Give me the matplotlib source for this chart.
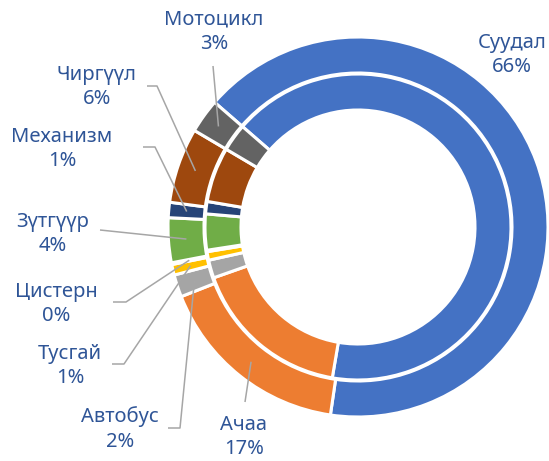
import matplotlib
matplotlib.use("Agg")
import matplotlib.pyplot as plt
import numpy as np

plt.rcParams['font.family'] = ['Noto Sans', 'DejaVu Sans']

# ---- data ----
categories = ["Суудал", "Ачаа", "Автобус", "Тусгай", "Цистерн",
              "Зүтгүүр", "Механизм", "Чиргүүл", "Мотоцикл"]
outer_values = [65.9, 16.7, 1.9, 0.9, 0.15, 3.8, 1.3, 6.4, 2.9]
inner_values = [66.2, 16.9, 1.9, 0.9, 0.15, 3.8, 1.3, 5.8, 2.9]
colors = ["#4472C4", "#ED7D31", "#A5A5A5", "#FFC000", "#5B9BD5",
          "#70AD47", "#264478", "#9E480E", "#636363"]

# ---- layout (pixel coordinates, y measured from top) ----
W, H = 549, 461
cx, cy = 358, 227
label_pos = {
    "Суудал": (512, 55),
    "Ачаа": (244, 437),
    "Автобус": (120, 429),
    "Тусгай": (70, 366),
    "Цистерн": (56, 304),
    "Зүтгүүр": (53, 234),
    "Механизм": (62, 149),
    "Чиргүүл": (97, 87),
    "Мотоцикл": (214, 32),
}
# leader-line starting points (label side); None = no leader line
leader_start = {
    "Суудал": None,
    "Ачаа": [(245, 402)],
    "Автобус": [(168, 428), (180, 428)],
    "Тусгай": [(112, 364), (124, 364)],
    "Цистерн": [(113, 302), (126, 302)],
    "Зүтгүүр": [(100, 230)],
    "Механизм": [(143, 147), (155, 147)],
    "Чиргүүл": [(147, 86), (157, 86)],
    "Мотоцикл": [(213, 66)],
}

fig = plt.figure(figsize=(W / 100, H / 100), dpi=100)
ax = fig.add_axes([0, 0, 1, 1])

def Y(y):
    return H - y

edge = dict(edgecolor='white', linewidth=2.2)
outer_r, outer_w = 190, 36
inner_r, inner_w = 153, 36
start = 139

wedges_out, _ = ax.pie(outer_values, colors=colors, radius=outer_r,
                       center=(cx, Y(cy)), startangle=start, counterclock=False,
                       wedgeprops=dict(width=outer_w, **edge), frame=True)
ax.pie(inner_values, colors=colors, radius=inner_r,
       center=(cx, Y(cy)), startangle=start, counterclock=False,
       wedgeprops=dict(width=inner_w, **edge), frame=True)
ax.set_xlim(0, W)
ax.set_ylim(0, H)
ax.set_aspect('equal')
ax.axis('off')

total = sum(outer_values)
text_color = "#2F5597"
for name, val, w in zip(categories, outer_values, wedges_out):
    pct = round(val / total * 100)
    lx, ly = label_pos[name]
    ax.text(lx, Y(ly), f"{name}\n{pct:.0f}%", ha='center', va='center',
            fontsize=14.5, color=text_color, linespacing=1.3)
    pts = leader_start[name]
    if pts:
        mid = np.deg2rad((w.theta1 + w.theta2) / 2)
        rmid = outer_r - outer_w / 2
        ex = cx + rmid * np.cos(mid)
        ey = Y(cy) + rmid * np.sin(mid)
        xs = [p[0] for p in pts] + [ex]
        ys = [Y(p[1]) for p in pts] + [ey]
        ax.plot(xs, ys, color="#A6A6A6", linewidth=1.1, zorder=5,
                solid_capstyle='butt')

fig.savefig("out.png", dpi=100)
